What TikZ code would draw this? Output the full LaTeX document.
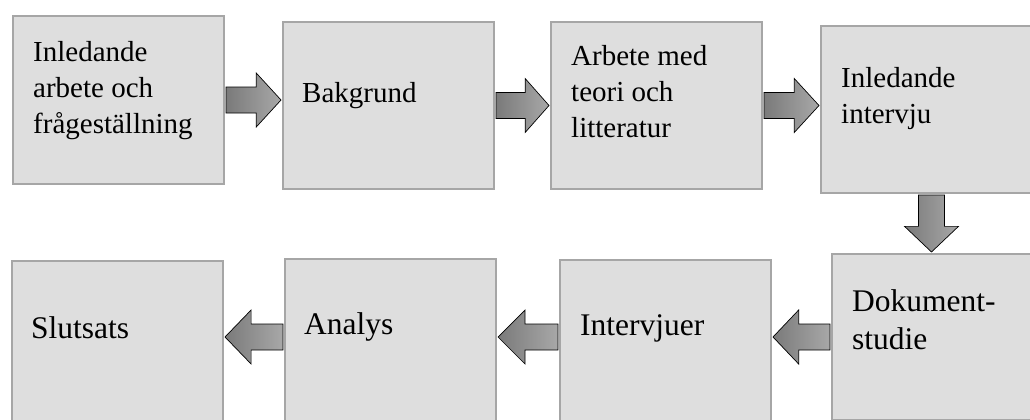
\documentclass[tikz,border=0pt]{standalone}
\usepackage{fontspec}
\setmainfont{Liberation Serif}
\usetikzlibrary{positioning, calc}
\definecolor{boxfill}{HTML}{DEDEDE}
\definecolor{boxline}{HTML}{A6A6A6}
\definecolor{arrowdark}{HTML}{7A7A7A}
\definecolor{arrowlight}{HTML}{A8A8A8}
\tikzset{x=1pt,y=-1pt,
box/.style={draw=boxline, fill=boxfill, line width=2pt, anchor=north west, minimum width=211pt, minimum height=167pt, inner sep=0pt, outer sep=2pt},
txt/.style={align=left, inner sep=0pt, font=\fontsize{29}{36}\selectfont},
bigtxt/.style={txt, font=\fontsize{31.5}{38}\selectfont},
fat/.style={draw=black, line width=0.7pt, left color=arrowdark, right color=arrowlight, to path={
 ($(\tikztostart)!13pt!90:(\tikztotarget)$)
 -- ($(\tikztostart)!0.55!(\tikztotarget)!13pt!90:(\tikztotarget)$)
 -- ($(\tikztostart)!0.55!(\tikztotarget)!27pt!90:(\tikztotarget)$)
 -- (\tikztotarget)
 -- ($(\tikztostart)!0.55!(\tikztotarget)!27pt!-90:(\tikztotarget)$)
 -- ($(\tikztostart)!0.55!(\tikztotarget)!13pt!-90:(\tikztotarget)$)
 -- ($(\tikztostart)!13pt!-90:(\tikztotarget)$) -- cycle}}}

\begin{document}
\begin{tikzpicture}
\useasboundingbox (0,0) rectangle (1030,420);
% upper row
\node[box, minimum height=168pt] (b1) at (11,14) {};
\node[box] (b2) at (281,20) {};
\node[box] (b3) at (549,20) {};
\node[box, minimum width=210pt] (b4) at (819,24) {};
% lower row
\node[box, minimum width=199pt, minimum height=166pt] (b5) at (830,252) {};
\node[box, minimum height=175pt] (b6) at (558,258) {};
\node[box, minimum height=175pt] (b7) at (283,257) {};
\node[box, minimum height=175pt] (b8) at (10,259) {};
% texts
\node[txt, below right=27pt and 22pt of b1.north west] (t1) {Inledande\\arbete och\\frågeställning};
\node[txt, below right=62pt and 21pt of b2.north west] (t2) {Bakgrund};
\node[txt, below right=25pt and 22pt of b3.north west] (t3) {Arbete med\\teori och\\litteratur};
\node[txt, below right=43pt and 22pt of b4.north west] (t4) {Inledande\\intervju};
\node[bigtxt, below right=37pt and 22pt of b5.north west] (t5) {Dokument-\\studie};
\node[bigtxt, below right=56pt and 22pt of b6.north west] (t6) {Intervjuer};
\node[bigtxt, below right=55pt and 21pt of b7.north west] (t7) {Analys};
\node[bigtxt, below right=57pt and 21pt of b8.north west] (t8) {Slutsats};
% arrows
\draw[fat] (b1.east) to (b1.east -| b2.west);
\draw[fat] (b2.east) to (b2.east -| b3.west);
\draw[fat] (b3.east) to (b3.east -| b4.west);
\draw[fat] (b4.south -| b5.north) to (b5.north);
\draw[fat] (b5.west) to (b5.west -| b6.east);
\draw[fat] (b6.west |- b5.west) to (b5.west -| b7.east);
\draw[fat] (b7.west |- b5.west) to (b5.west -| b8.east);
\end{tikzpicture}
\end{document}
